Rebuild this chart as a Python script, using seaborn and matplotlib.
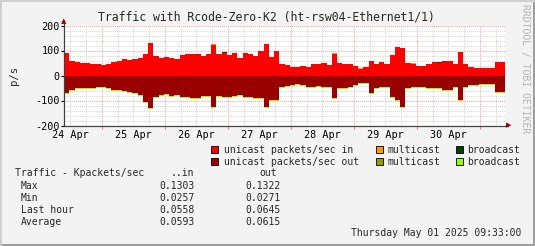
import numpy as np
import pandas as pd
import matplotlib
matplotlib.use("Agg")
import matplotlib.pyplot as plt
from matplotlib.patches import Rectangle
import seaborn as sns

# ---------------- data (2-hour bins, p/s) ----------------
unicast_in = [90, 57, 55, 50, 52, 48, 48, 42, 45, 55, 58, 65, 62, 66, 72, 85, 130, 80, 72, 76,
              70, 65, 82, 85, 85, 88, 78, 88, 122, 88, 90, 82, 90, 72, 90, 88, 80, 100, 125, 75,
              100, 48, 42, 36, 33, 38, 35, 45, 45, 50, 44, 88, 50, 48, 45, 38, 28, 35, 58, 48,
              55, 45, 82, 115, 110, 50, 48, 40, 38, 45, 55, 50, 60, 58, 48, 95, 45, 35, 32, 30,
              30, 32, 55, 55]
multicast_in = [0, 0, 0, 2, 0, 0, 0, 0, 0, 0, 0, 0, 0, 0, 0, 0, 0, 0, 0, 0,
                0, 0, 0, 0, 0, 0, 0, 0, 3, 0, 0, 0, 0, 0, 0, 0, 0, 0, 0, 0,
                0, 0, 0, 0, 0, 0, 0, 0, 0, 0, 0, 4, 0, 0, 0, 0, 3, 0, 0, 0,
                0, 0, 0, 0, 0, 0, 3, 0, 0, 0, 0, 0, 0, 0, 0, 0, 0, 0, 0, 0,
                0, 0, 0, 0]
broadcast_in = [0, 0, 0, 0, 0, 0, 0, 0, 0, 0, 0, 0, 0, 0, 0, 0, 0, 0, 0, 0,
                0, 0, 0, 0, 0, 0, 0, 0, 0, 0, 3, 0, 0, 0, 0, 0, 0, 0, 0, 0,
                0, 0, 0, 0, 0, 0, 0, 0, 0, 0, 0, 0, 0, 0, 0, 0, 0, 0, 0, 0,
                0, 0, 0, 0, 0, 0, 0, 0, 0, 0, 0, 3, 0, 0, 0, 0, 0, 0, 0, 0,
                0, 0, 0, 0]
unicast_out = [71, 58, 51, 51, 51, 48, 44, 46, 48, 56, 58, 63, 66, 68, 76, 106, 131, 84, 76, 74,
               81, 76, 84, 86, 88, 88, 81, 81, 126, 81, 84, 86, 81, 76, 86, 86, 91, 91, 126, 96,
               96, 46, 41, 36, 34, 36, 46, 46, 41, 44, 46, 91, 48, 48, 46, 36, 31, 31, 71, 51,
               46, 46, 86, 96, 126, 51, 44, 44, 44, 51, 51, 51, 56, 56, 46, 96, 46, 36, 36, 34,
               34, 34, 66, 66]
multicast_out = [0, 0, 0, 0, 0, 0, 0, 0, 0, 0, 0, 0, 0, 0, 0, 0, 0, 0, 0, 0,
                 0, 0, 0, 0, 0, 0, 0, 0, 0, 0, 0, 0, 0, 0, 0, 0, 0, 0, 0, 0,
                 0, 0, 0, 0, 0, 0, 0, 0, 0, 0, 0, 0, 0, 0, 0, 0, 0, 0, 0, 0,
                 0, 0, 0, 0, 0, 0, 0, 0, 0, 0, 0, 0, 0, 0, 0, 0, 0, 0, 0, 0,
                 0, 0, 0, 0]
broadcast_out = [4, 4, 4, 4, 4, 4, 4, 4, 4, 4, 4, 4, 4, 4, 4, 4, 4, 4, 4, 4,
                 4, 4, 4, 4, 4, 4, 4, 4, 4, 4, 4, 4, 4, 4, 4, 4, 4, 4, 4, 4,
                 4, 4, 4, 4, 4, 4, 4, 4, 4, 4, 4, 4, 4, 4, 4, 4, 4, 4, 4, 4,
                 4, 4, 4, 4, 4, 4, 4, 4, 4, 4, 4, 4, 4, 4, 4, 4, 4, 4, 4, 4,
                 4, 4, 4, 4]

day_labels = ["24 Apr", "25 Apr", "26 Apr", "27 Apr", "28 Apr", "29 Apr", "30 Apr"]
y_ticks = [-200, -100, 0, 100, 200]

legend_names = ["unicast packets/sec in", "multicast", "broadcast",
                "unicast packets/sec out", "multicast", "broadcast"]
stat_rows = ["Max", "Min", "Last hour", "Average"]
stat_in = ["0.1303", "0.0257", "0.0558", "0.0593"]
stat_out = ["0.1322", "0.0271", "0.0645", "0.0615"]

title = "Traffic with Rcode-Zero-K2 (ht-rsw04-Ethernet1/1)"
stamp = "Thursday May 01 2025 09:33:00"

# ---------------- styling ----------------
sns.set_theme(style="white")
plt.rcParams["font.family"] = ["DejaVu Sans Mono"]

C_IN = "#FF0000"
C_MIN = "#FF9900"
C_BIN = "#004000"
C_OUT = "#990000"
C_MOUT = "#999900"
C_BOUT = "#99FF00"
BG = "#F3F3F3"

W, H = 535, 246
fig = plt.figure(figsize=(W / 100, H / 100), dpi=100, facecolor=BG)


def fx(px):
    return px / W


def fy(py):
    return 1 - py / H


ax = fig.add_axes([fx(64), fy(125.5), fx(505) - fx(64), fy(25.5) - fy(125.5)])
ax.set_facecolor("white")

df = pd.DataFrame({
    "t": np.arange(len(unicast_in)) * 2.0,
    "uin": unicast_in, "min": multicast_in, "bin": broadcast_in,
    "uout": unicast_out, "mout": multicast_out, "bout": broadcast_out,
})

# start of graph = Apr 24 09:33 -> offsets in hours
first_midnight = 24 - 9.55
first_noon = 12 - 9.55

# grid
ax.set_axisbelow(True)
for k in range(30):
    h = first_noon - 12 + 6 * k
    if 0 < h < 168:
        is_major = abs(((h - first_midnight) / 24) - round((h - first_midnight) / 24)) < 1e-6
        if not is_major:
            ax.axvline(h, color="#D4D4D4", lw=0.7, ls=(0, (1, 1)), zorder=0)
for k in range(8):
    h = first_midnight + 24 * k
    if 0 < h < 168:
        ax.axvline(h, color="#F2A0A0", lw=0.7, ls=(0, (1, 1)), zorder=0)
for v in range(-180, 200, 20):
    if v % 100 != 0:
        ax.axhline(v, color="#D4D4D4", lw=0.7, ls=(0, (1, 1)), zorder=0)
for v in (-100, 0, 100, 200):
    ax.axhline(v, color="#F2A0A0", lw=0.7, ls=(0, (1, 1)), zorder=0)

# stacked bars
bw = 2.0
kw = dict(width=bw, align="edge", linewidth=0, zorder=2)
ax.bar(df["t"], df["uin"], color=C_IN, **kw)
ax.bar(df["t"], df["min"], bottom=df["uin"], color=C_MIN, **kw)
ax.bar(df["t"], df["bin"], bottom=df["uin"] + df["min"], color=C_BIN, **kw)
ax.bar(df["t"], -df["uout"], color=C_OUT, **kw)
ax.bar(df["t"], -df["mout"], bottom=-df["uout"], color=C_MOUT, **kw)
ax.bar(df["t"], -df["bout"], bottom=-df["uout"] - df["mout"], color=C_BOUT, **kw)

ax.set_xlim(0, 168)
ax.set_ylim(-200, 200)

ax.set_yticks(y_ticks)
ax.set_yticklabels([str(v) for v in y_ticks])
ax.set_xticks([first_noon + 24 * i for i in range(len(day_labels))])
ax.set_xticklabels(day_labels)
ax.tick_params(axis="x", length=0, pad=3, labelsize=7.3, colors="black")
ax.tick_params(axis="y", length=2, width=0.8, pad=1, labelsize=7.3, colors="black",
               direction="out", left=True)
ax.set_xticks([first_midnight + 24 * i for i in range(7)], minor=True)
ax.tick_params(axis="x", which="minor", length=2, width=0.8, color="#E08080",
               direction="out", bottom=True)

for s in ("top", "right"):
    ax.spines[s].set_visible(False)
for s in ("left", "bottom"):
    ax.spines[s].set_color("#404040")
    ax.spines[s].set_linewidth(0.8)

# axis arrows
fig.add_artist(plt.Line2D([fx(64), fx(64)], [fy(125.5), fy(20)], color="#404040", lw=0.8))
fig.add_artist(plt.Line2D([fx(64), fx(508)], [fy(125.5), fy(125.5)], color="#404040", lw=0.8))
fig.text(fx(64), fy(21.5), "\u25B2", color="#A00000", fontsize=5, ha="center", va="center",
         family=["DejaVu Sans"])
fig.text(fx(509), fy(125.5), "\u25B6", color="#A00000", fontsize=5, ha="center", va="center",
         family=["DejaVu Sans"])

# title, labels
fig.text(fx(266), fy(17.5), title, fontsize=8.3, ha="center", va="center")
fig.text(fx(13.5), fy(75), "p/s", fontsize=7.6, rotation=90, ha="center", va="center")
fig.text(fx(525), fy(4), "RRDTOOL / TOBI OETIKER", fontsize=7.0, rotation=270,
         ha="center", va="top", color="#B4B4B4")

# legend
legend_colors = [C_IN, C_MIN, C_BIN, C_OUT, C_MOUT, C_BOUT]
box_x = [211, 375.5, 455.5]
txt_x = [223.5, 387, 467.5]
rows_y = [149.8, 161.8]
for i, (name, col) in enumerate(zip(legend_names, legend_colors)):
    r, c = divmod(i, 3)
    fig.add_artist(Rectangle((fx(box_x[c]), fy(rows_y[r] + 3.5)), 7 / W, 7 / H,
                             facecolor=col, edgecolor="black", lw=0.6,
                             transform=fig.transFigure))
    fig.text(fx(txt_x[c]), fy(rows_y[r]), name, fontsize=7.0, ha="left", va="center")

# stats table
fig.text(fx(15.3), fy(173.5), "Traffic - Kpackets/sec", fontsize=7.0, ha="left", va="center")
fig.text(fx(194.5), fy(173.5), "..in", fontsize=7.0, ha="right", va="center")
fig.text(fx(277.5), fy(173.5), "out", fontsize=7.0, ha="right", va="center")
for i, (lab, vi, vo) in enumerate(zip(stat_rows, stat_in, stat_out)):
    yy = 185.6 + 12 * i
    fig.text(fx(21), fy(yy), lab, fontsize=7.0, ha="left", va="center")
    fig.text(fx(194.5), fy(yy), vi, fontsize=7.0, ha="right", va="center")
    fig.text(fx(280.5), fy(yy), vo, fontsize=7.0, ha="right", va="center")

fig.text(fx(521), fy(233.5), stamp, fontsize=7.0, ha="right", va="center")

# 3D frame
fig.add_artist(Rectangle((0, 0), 1, 2 / H, facecolor="#9E9E9E", lw=0, transform=fig.transFigure))
fig.add_artist(Rectangle((1 - 2 / W, 0), 2 / W, 1, facecolor="#9E9E9E", lw=0, transform=fig.transFigure))
fig.add_artist(Rectangle((0, 0), 2 / W, 1, facecolor="#CFCFCF", lw=0, transform=fig.transFigure))
fig.add_artist(Rectangle((0, 1 - 2 / H), 1, 2 / H, facecolor="#CFCFCF", lw=0, transform=fig.transFigure))

fig.savefig("out.png", dpi=100, facecolor=BG)
